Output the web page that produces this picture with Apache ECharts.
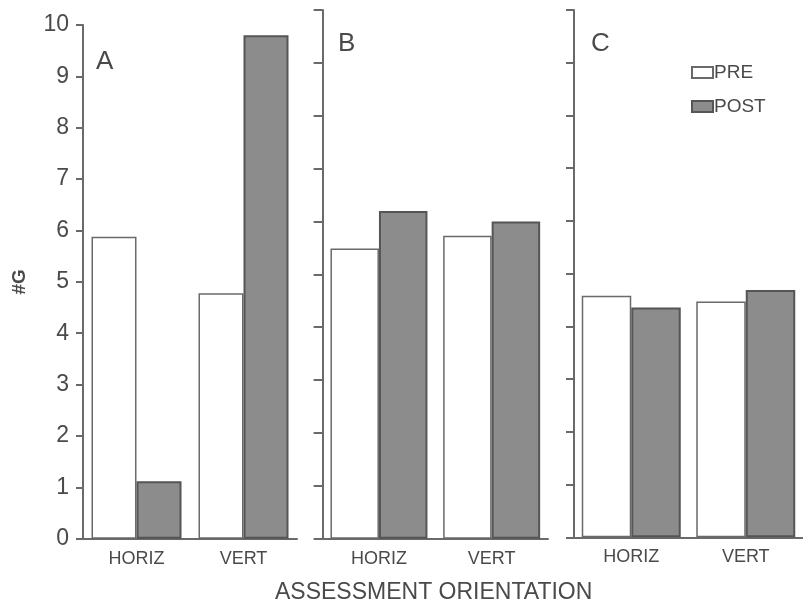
<!DOCTYPE html>
<html>
<head>
<meta charset="utf-8">
<script src="https://cdn.jsdelivr.net/npm/echarts@6/dist/echarts.min.js"></script>
<style>
  html, body { margin: 0; padding: 0; background: #fff; }
  #chart { width: 803px; height: 608px; }
</style>
</head>
<body>
<div id="chart"></div>
<script>
var categories = ['HORIZ', 'VERT'];
var panels = ['A', 'B', 'C'];
var yTicks = [0, 10, 1]; // min, max, step

// values read per panel, [HORIZ, VERT]
var preA = [5.88, 4.78];
var postA = [1.12, 9.80];
var preB = [5.49, 5.73];
var postB = [6.20, 6.00];
var preC = [4.58, 4.47];
var postC = [4.36, 4.69];

var textColor = '#4a4a4a';
var axisColor = '#6a6a6a';
var font = 'Liberation Sans, Arial, sans-serif';

var chart = echarts.init(document.getElementById('chart'));

// one grid per panel, slightly different like the scanned figure
var grids = [
  { left: 83, right: 506, top: 25, bottom: 69.3 },
  { left: 322.6, right: 255, top: 10, bottom: 69.3 },
  { left: 574, right: -8, top: 10, bottom: 70.7 }
];
var tickLen = [7, 9, 8];
var barW = [45, 48.5, 49.5];
var pre = [preA, preB, preC];
var post = [postA, postB, postC];

var xAxes = [], yAxes = [], series = [];
for (var i = 0; i < 3; i++) {
  xAxes.push({
    type: 'category',
    gridIndex: i,
    data: categories,
    axisLine: { lineStyle: { color: axisColor, width: 2 } },
    axisTick: { show: false },
    axisLabel: { color: textColor, fontSize: 18, fontFamily: font, margin: 11 }
  });
  yAxes.push({
    type: 'value',
    gridIndex: i,
    min: yTicks[0],
    max: yTicks[1],
    interval: yTicks[2],
    name: i === 0 ? '#G' : '',
    nameLocation: 'middle',
    nameRotate: 90,
    nameGap: 54,
    nameTextStyle: { color: textColor, fontSize: 19, fontWeight: 'bold', fontFamily: font },
    axisLine: { show: true, lineStyle: { color: axisColor, width: 2 } },
    axisTick: { show: true, length: tickLen[i], lineStyle: { color: axisColor, width: 2 } },
    axisLabel: { show: i === 0, color: textColor, fontSize: 23, fontFamily: font, margin: 14 },
    splitLine: { show: false }
  });
  series.push({
    name: 'PRE',
    type: 'bar',
    xAxisIndex: i,
    yAxisIndex: i,
    data: pre[i],
    barWidth: barW[i],
    barGap: '0%',
    itemStyle: { color: '#ffffff', borderColor: '#6a6a6a', borderWidth: 1.5 }
  });
  series.push({
    name: 'POST',
    type: 'bar',
    xAxisIndex: i,
    yAxisIndex: i,
    data: post[i],
    barWidth: barW[i],
    barGap: '0%',
    itemStyle: { color: '#8c8c8c', borderColor: '#555555', borderWidth: 2 }
  });
}

var option = {
  backgroundColor: '#ffffff',
  animation: false,
  title: [
    { text: panels[0], left: 91, top: 44, textStyle: { color: textColor, fontSize: 26, fontWeight: 'normal', fontFamily: font } },
    { text: panels[1], left: 333, top: 26, textStyle: { color: textColor, fontSize: 26, fontWeight: 'normal', fontFamily: font } },
    { text: panels[2], left: 586, top: 26, textStyle: { color: textColor, fontSize: 26, fontWeight: 'normal', fontFamily: font } },
    { text: 'ASSESSMENT ORIENTATION', left: 275, top: 581, padding: 0,
      textStyle: { color: textColor, fontSize: 23, fontWeight: 'normal', fontFamily: font } }
  ],
  legend: {
    orient: 'vertical',
    left: 686,
    top: 58,
    icon: 'rect',
    itemWidth: 21,
    itemHeight: 11,
    itemGap: 15,
    data: ['PRE', 'POST'],
    textStyle: { color: textColor, fontSize: 19, fontFamily: font, padding: [0, 0, 0, -4] }
  },
  grid: grids,
  xAxis: xAxes,
  yAxis: yAxes,
  series: series
};

chart.setOption(option);
</script>
</body>
</html>
